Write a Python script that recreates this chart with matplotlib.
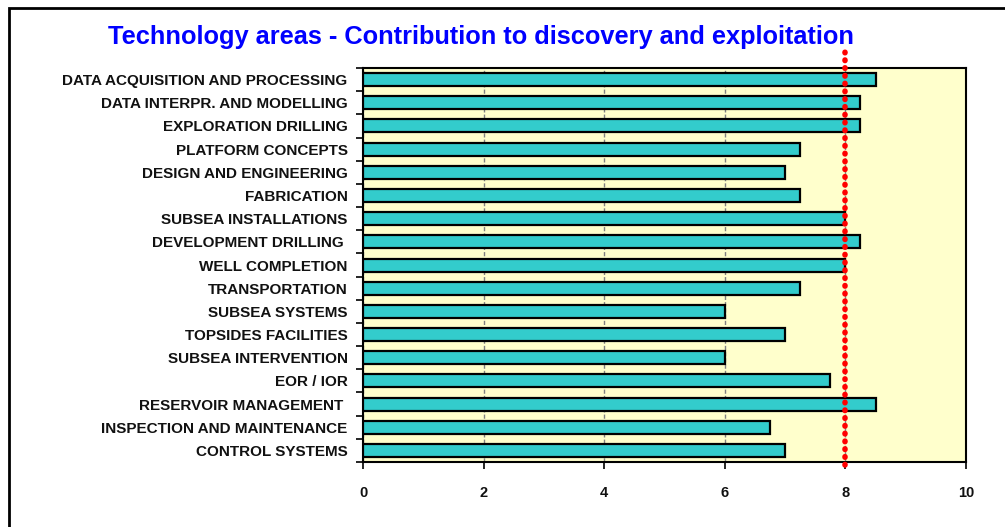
import matplotlib.pyplot as plt
from matplotlib.patches import Rectangle

plt.rcParams['font.family'] = ['Liberation Sans', 'DejaVu Sans']

# categories, top to bottom
areas = ["DATA ACQUISITION AND PROCESSING", "DATA INTERPR. AND MODELLING",
         "EXPLORATION DRILLING", "PLATFORM CONCEPTS", "DESIGN AND ENGINEERING",
         "FABRICATION", "SUBSEA INSTALLATIONS", "DEVELOPMENT DRILLING ",
         "WELL COMPLETION", "TRANSPORTATION", "SUBSEA SYSTEMS",
         "TOPSIDES FACILITIES", "SUBSEA INTERVENTION", "EOR / IOR",
         "RESERVOIR MANAGEMENT ", "INSPECTION AND MAINTENANCE", "CONTROL SYSTEMS"]
scores = [8.5, 8.25, 8.25, 7.25, 7.0, 7.25, 8.0, 8.25, 8.0, 7.25, 6.0,
          7.0, 6.0, 7.75, 8.5, 6.75, 7.0]
threshold = 8
xticks = [0, 2, 4, 6, 8, 10]

fig = plt.figure(figsize=(10.05, 5.27), dpi=100)
ax = fig.add_axes([0.3612, 0.1233, 0.6, 0.7476])
ax.set_facecolor('#FFFFCC')

pos = list(range(len(areas)))
ax.barh(pos, scores, height=0.56, color='#33CCCC', edgecolor='black',
        linewidth=1.6, zorder=3)
ax.set_ylim(len(areas) - 0.5, -0.5)
ax.set_xlim(0, 10)

# category labels placed between boundary ticks, Excel style
ax.set_yticks([p - 0.5 for p in pos] + [len(areas) - 0.5])
ax.set_yticklabels([])
ax.set_yticks(pos, minor=True)
ax.set_yticklabels(areas, minor=True, fontsize=11, fontweight='bold', color='#111111')
ax.tick_params(axis='y', which='minor', length=0, pad=11)
ax.tick_params(axis='y', which='major', length=5, width=1.2, direction='out')

ax.set_xticks(xticks)
ax.set_xticklabels([str(t) for t in xticks], fontsize=10.5, fontweight='bold', color='#111111')
ax.tick_params(axis='x', length=5, width=1.2, direction='out', pad=12)

ax.grid(axis='x', color='#808080', linestyle=(0, (3, 1.5)), linewidth=1.0, zorder=1)
for s in ax.spines.values():
    s.set_linewidth(1.5)

ax.axvline(threshold, ymin=-0.008, ymax=1.05, color='red',
           linestyle=(0, (0.1, 1.3)), dash_capstyle='round', linewidth=4,
           clip_on=False, zorder=5)

fig.text(0.479, 0.93, "Technology areas - Contribution to discovery and exploitation",
         ha='center', va='center', color='#0000FF', fontsize=18.3, fontweight='bold')

fig.patches.append(Rectangle((9 / 1005, -0.1), 1.2, 1 - 8 / 527 + 0.1,
                             transform=fig.transFigure, fill=False,
                             edgecolor='black', linewidth=2))

fig.savefig('out.png', dpi=100)
